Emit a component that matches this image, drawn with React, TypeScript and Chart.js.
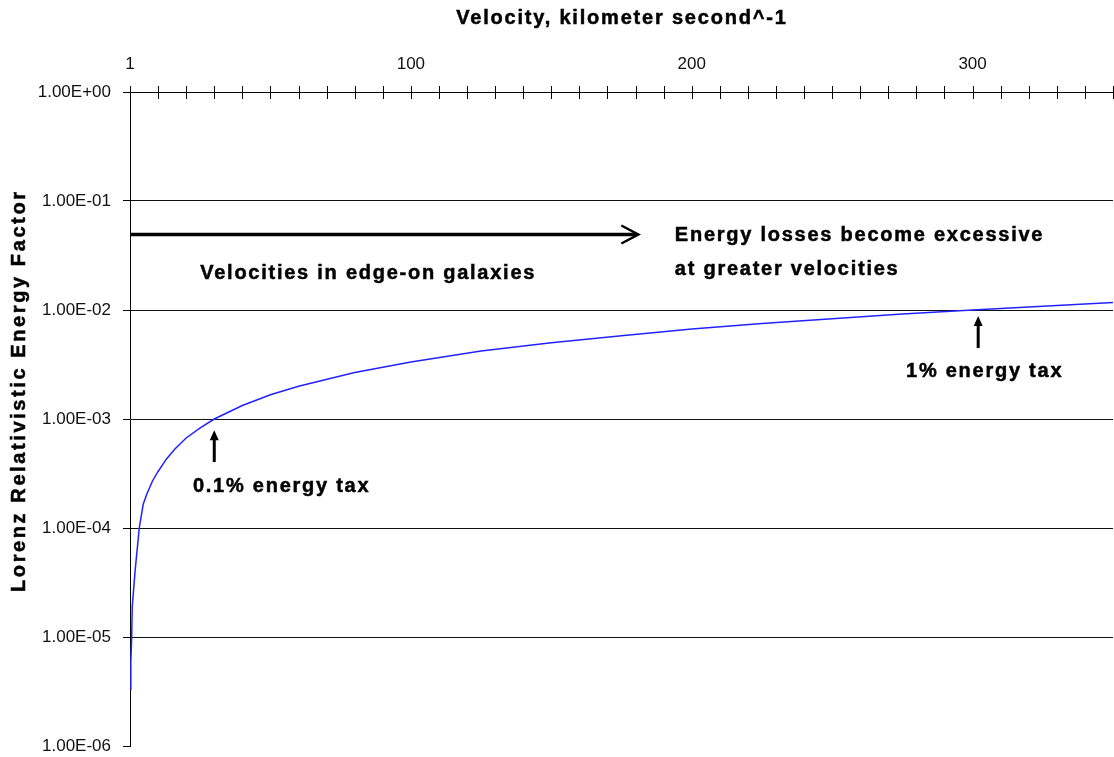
import React, { useEffect, useRef } from "react";
import { Chart, registerables } from "chart.js";

Chart.register(...registerables);

// ---- data ----
const velocities = [0.2, 0.3, 0.6, 0.8, 1.8, 3.3, 4.7, 6, 8, 10, 13, 16, 20, 25, 30, 40, 50, 60, 80, 100, 125, 150, 175, 200, 225, 250, 275, 300, 325, 350];
const energyFactor = [3.3e-6, 6e-6, 1.0e-5, 1.9e-5, 4.0e-5, 1.0e-4, 1.65e-4, 2.05e-4, 2.7e-4, 3.3e-4, 4.3e-4, 5.3e-4, 6.7e-4, 8.3e-4, 1.0e-3, 1.33e-3, 1.67e-3, 2.0e-3, 2.67e-3, 3.33e-3, 4.2e-3, 5.0e-3, 5.8e-3, 6.7e-3, 7.5e-3, 8.3e-3, 9.2e-3, 1.0e-2, 1.08e-2, 1.17e-2];

const xLabelValues = [0, 100, 200, 300];
const xLabelTexts = ["1", "100", "200", "300"];
const xTickStep = 10;
const xMin = 0;
const xMax = 350;

const yTickValues = [1, 1e-1, 1e-2, 1e-3, 1e-4, 1e-5, 1e-6];
const yTickLabels = ["1.00E+00", "1.00E-01", "1.00E-02", "1.00E-03", "1.00E-04", "1.00E-05", "1.00E-06"];

const xTitle = "Velocity, kilometer second^-1";
const yTitle = "Lorenz Relativistic Energy Factor";

const noteTexts = ["Velocities in edge-on galaxies", "Energy losses become excessive", "at greater velocities", "1% energy tax", "0.1% energy tax"];
const noteX = [25, 194, 194, 276.3, 22.4];
const noteY = [0.0225, 0.05, 0.0245, 0.00282, 2.53e-4];

// arrows: [x1, y1, x2, y2] in data units, tip at (x2, y2)
const hArrow = [0, 0.05, 181, 0.05];
const upArrows = [
  [30, 4.03e-4, 30, 7.9e-4],
  [302, 4.48e-3, 302, 8.8e-3],
];

const BOLD = "bold 20px 'Liberation Sans', Arial, sans-serif";

function drawSpaced(ctx: CanvasRenderingContext2D, text: string, x: number, y: number, ls: number, center: boolean) {
  (ctx as any).letterSpacing = ls + "px";
  const w = ctx.measureText(text).width - ls;
  ctx.textAlign = "left";
  const px = center ? x - w / 2 : x;
  ctx.fillText(text, px, y);
  ctx.lineWidth = 0.5;
  ctx.strokeText(text, px, y);
  (ctx as any).letterSpacing = "0px";
}

const decorPlugin = {
  id: "decor",
  afterDraw(chart: any) {
    const ctx: CanvasRenderingContext2D = chart.ctx;
    const xs = chart.scales.x;
    const ys = chart.scales.y;
    const area = chart.chartArea;
    ctx.save();
    // crossing tick marks on top axis
    ctx.strokeStyle = "#000";
    ctx.lineWidth = 1;
    ctx.beginPath();
    for (let v = xMin; v <= xMax + 0.001; v += xTickStep) {
      const px = Math.round(xs.getPixelForValue(v)) + 0.5;
      ctx.moveTo(px, area.top - 6);
      ctx.lineTo(px, area.top + 7);
    }
    ctx.stroke();

    // titles
    ctx.fillStyle = "#000";
    ctx.font = BOLD;
    ctx.textBaseline = "middle";
    drawSpaced(ctx, xTitle, 621, 18, 1.8, true);
    ctx.save();
    ctx.translate(19, 392);
    ctx.rotate(-Math.PI / 2);
    drawSpaced(ctx, yTitle, 0, 0, 2.6, true);
    ctx.restore();

    // notes
    for (let i = 0; i < noteTexts.length; i++) {
      drawSpaced(ctx, noteTexts[i], xs.getPixelForValue(noteX[i]), ys.getPixelForValue(noteY[i]) + 2, 1.75, false);
    }

    // horizontal arrow
    const hx1 = xs.getPixelForValue(hArrow[0]);
    const hy = Math.round(ys.getPixelForValue(hArrow[1])) + 0.5;
    const hx2 = xs.getPixelForValue(hArrow[2]);
    ctx.lineWidth = 3.5;
    ctx.beginPath();
    ctx.moveTo(hx1, hy);
    ctx.lineTo(hx2 - 2, hy);
    ctx.stroke();
    ctx.lineWidth = 2.5;
    ctx.beginPath();
    ctx.moveTo(hx2 - 17, hy - 9);
    ctx.lineTo(hx2, hy);
    ctx.lineTo(hx2 - 17, hy + 9);
    ctx.stroke();

    // up arrows
    for (const a of upArrows) {
      const ax = xs.getPixelForValue(a[0]);
      const yb = ys.getPixelForValue(a[1]);
      const yt = ys.getPixelForValue(a[3]);
      ctx.lineWidth = 3;
      ctx.beginPath();
      ctx.moveTo(ax, yb);
      ctx.lineTo(ax, yt + 8);
      ctx.stroke();
      ctx.beginPath();
      ctx.moveTo(ax, yt);
      ctx.lineTo(ax - 4.5, yt + 10);
      ctx.lineTo(ax + 4.5, yt + 10);
      ctx.closePath();
      ctx.fill();
    }
    ctx.restore();
  },
};

export default function App() {
  const ref = useRef<HTMLCanvasElement | null>(null);
  useEffect(() => {
    document.body.style.margin = "0";
    const canvas = ref.current!;
    const points = velocities.map((v, i) => ({ x: v, y: energyFactor[i] }));
    const chart = new Chart(canvas, {
      type: "line",
      data: {
        datasets: [
          {
            data: points,
            borderColor: "#2222ff",
            borderWidth: 1.5,
            pointRadius: 0,
            tension: 0,
            fill: false,
          },
        ],
      },
      options: {
        animation: false,
        responsive: false,
        devicePixelRatio: 1,
        layout: { padding: { top: 0, left: 0, right: 1, bottom: 0 } },
        plugins: { legend: { display: false }, tooltip: { enabled: false } },
        scales: {
          x: {
            type: "linear",
            position: "top",
            min: xMin,
            max: xMax,
            afterBuildTicks: (scale: any) => {
              scale.ticks = xLabelValues.map((v) => ({ value: v }));
            },
            afterFit: (scale: any) => {
              scale.height = 92;
              scale.paddingLeft = 0;
              scale.paddingRight = 0;
            },
            ticks: {
              autoSkip: false,
              maxRotation: 0,
              padding: 17,
              color: "#111",
              font: { family: "'Liberation Sans', Arial, sans-serif", size: 17 },
              callback: (value: any) => {
                const i = xLabelValues.indexOf(Number(value));
                return i >= 0 ? xLabelTexts[i] : "";
              },
            },
            grid: { display: true, drawOnChartArea: false, drawTicks: false },
            border: { display: true, color: "#000", width: 1 },
          },
          y: {
            type: "logarithmic",
            min: 1e-6,
            max: 1,
            afterBuildTicks: (scale: any) => {
              scale.ticks = yTickValues.map((v) => ({ value: v }));
            },
            afterFit: (scale: any) => {
              scale.width = 130;
              scale.paddingTop = 0;
              scale.paddingBottom = 11;
            },
            ticks: {
              autoSkip: false,
              padding: 12,
              color: "#111",
              font: { family: "'Liberation Sans', Arial, sans-serif", size: 17 },
              callback: (value: any) => {
                const i = yTickValues.findIndex((t) => Math.abs(t - Number(value)) < t * 1e-6);
                return i >= 0 ? yTickLabels[i] : "";
              },
            },
            grid: {
              display: true,
              drawOnChartArea: true,
              drawTicks: true,
              tickLength: 7,
              tickColor: "#000",
              lineWidth: 1,
              color: (c: any) => (c.tick && c.tick.value < 1e-5 ? "rgba(0,0,0,0)" : "#111"),
            },
            border: { display: true, color: "#000", width: 1 },
          },
        },
      },
      plugins: [decorPlugin],
    } as any);
    return () => chart.destroy();
  }, []);
  return (
    <div style={{ width: 1114, height: 757, background: "#fff" }}>
      <canvas ref={ref} width={1114} height={757} style={{ display: "block" }} />
    </div>
  );
}
